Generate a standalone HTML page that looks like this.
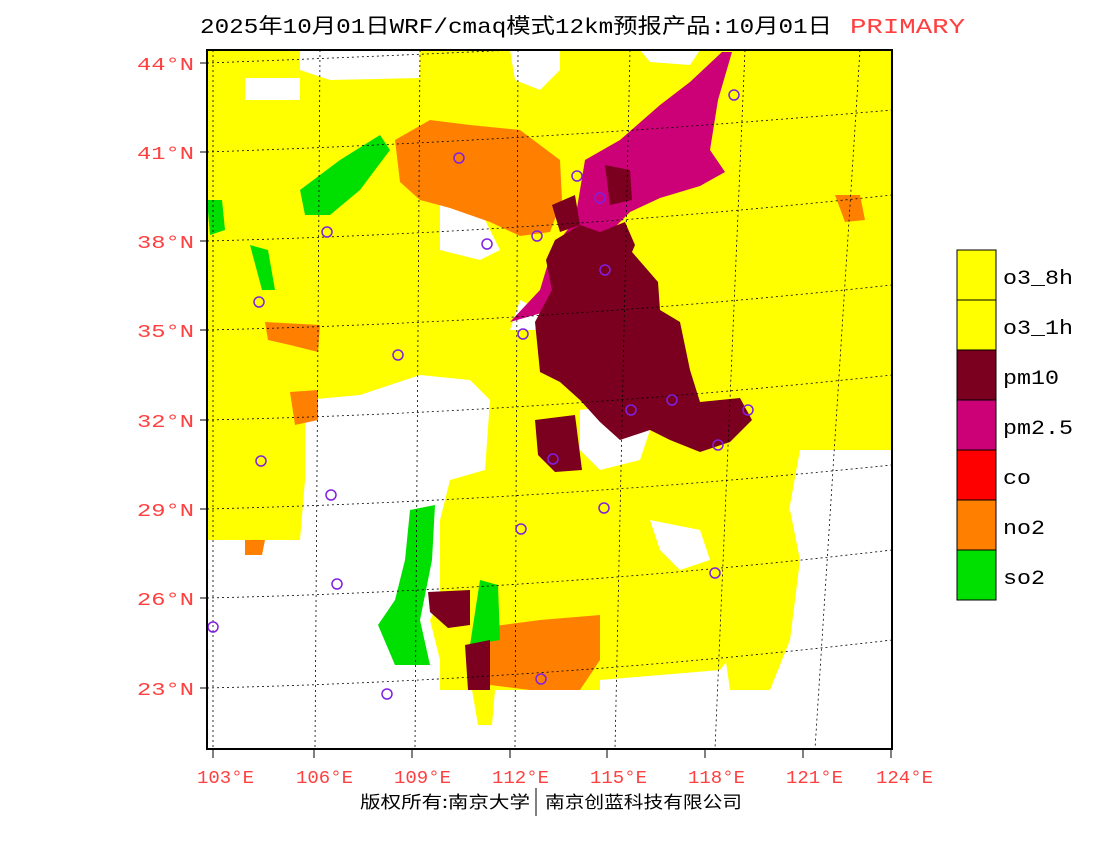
<!DOCTYPE html>
<html><head><meta charset="utf-8"><style>
body{margin:0;background:#fff;width:1100px;height:850px;overflow:hidden;font-family:"Liberation Mono","Noto Sans CJK SC",monospace}
</style></head><body>
<svg width="1100" height="850" xmlns="http://www.w3.org/2000/svg" style="position:absolute;left:0;top:0">
<defs><clipPath id="c"><rect x="207" y="50" width="685" height="699"/></clipPath></defs>
<g clip-path="url(#c)">
<rect x="207" y="50" width="685" height="699" fill="#ffff00"/>
<g fill="#fff">
<polygon points="300,50 420,50 420,78 330,80 300,70"/>
<polygon points="245,78 300,78 300,100 245,100"/>
<polygon points="510,50 560,50 560,70 540,90 515,80"/>
<polygon points="640,50 700,50 690,65 650,62"/>
<polygon points="305,400 360,395 420,375 470,380 490,400 485,470 450,480 440,520 440,600 430,620 440,660 440,690 600,690 600,749 207,749 207,540 300,540 305,480"/>
<polygon points="440,200 480,210 500,250 480,260 440,250"/>
<polygon points="520,300 540,310 535,330 510,330"/>
<polygon points="580,410 620,405 650,430 640,460 600,470 580,450"/>
<polygon points="590,350 620,350 615,380 595,385"/>
<polygon points="600,680 720,670 760,620 780,560 800,450 892,450 892,749 600,749"/>
<polygon points="650,520 700,530 710,560 680,570 660,550"/>
</g>
<polygon points="472,690 495,690 492,725 478,725" fill="#ffff00"/>
<polygon points="720,620 760,560 790,510 800,560 790,640 770,690 730,690" fill="#ffff00"/>
<g fill="#ff8000">
<polygon points="395,140 430,120 470,125 520,130 560,160 562,200 550,232 520,236 490,222 450,208 420,200 400,182"/>
<polygon points="265,322 320,325 318,352 290,345 268,340"/>
<polygon points="290,392 318,390 318,420 295,425"/>
<polygon points="480,628 540,620 600,615 600,660 580,690 530,690 490,685"/>
<polygon points="835,195 860,195 865,220 845,222"/>
<polygon points="245,540 265,540 262,555 245,555"/>
</g>
<g fill="#00e000">
<polygon points="300,190 340,160 380,135 390,150 360,190 330,215 305,215"/>
<polygon points="207,200 222,200 225,230 210,235"/>
<polygon points="250,245 268,250 275,290 262,290"/>
<polygon points="410,510 435,505 432,560 420,620 430,665 395,665 378,625 395,600 405,560"/>
<polygon points="480,580 498,585 500,640 470,645"/>
</g>
<polygon points="510,322 540,290 552,250 575,220 585,160 620,140 660,105 690,82 722,52 732,52 718,100 710,150 725,172 700,186 660,198 630,212 600,242 572,282 545,312" fill="#cc0077"/>
<g fill="#7b0020">
<polygon points="555,240 580,225 600,232 625,222 635,245 632,252 658,282 660,310 680,322 690,370 700,402 740,398 752,420 730,442 700,452 670,440 650,430 620,440 600,422 580,400 560,382 540,372 535,322 552,290 546,260"/>
<polygon points="552,205 575,195 580,225 560,232"/>
<polygon points="605,165 630,170 632,200 610,205"/>
<polygon points="535,420 575,415 582,470 555,472 538,455"/>
<polygon points="428,592 470,590 470,625 448,628 430,612"/>
<polygon points="465,645 490,640 490,690 468,690"/>
</g>
<g stroke="#000" stroke-width="0.8" stroke-dasharray="2,3" fill="none">
<path d="M207,63 Q550,50 892,30"/><path d="M207,152 Q550,140 892,110"/><path d="M207,241 Q550,232 892,195"/>
<path d="M207,330 Q550,322 892,285"/><path d="M207,420 Q550,412 892,375"/><path d="M207,509 Q550,500 892,465"/>
<path d="M207,598 Q550,590 892,550"/><path d="M207,688 Q550,680 892,640"/>
<path d="M213,50 L213,749"/><path d="M320,50 L315,749"/><path d="M420,50 L415,749"/><path d="M518,50 L515,749"/>
<path d="M630,50 L615,749"/><path d="M745,50 L715,749"/><path d="M860,50 L815,749"/>
</g>
<g fill="none" stroke="#8020e0" stroke-width="1.5">
<circle cx="734" cy="95" r="5"/><circle cx="459" cy="158" r="5"/><circle cx="577" cy="176" r="5"/><circle cx="600" cy="198" r="5"/>
<circle cx="327" cy="232" r="5"/><circle cx="487" cy="244" r="5"/><circle cx="537" cy="236" r="5"/><circle cx="605" cy="270" r="5"/>
<circle cx="259" cy="302" r="5"/><circle cx="523" cy="334" r="5"/><circle cx="398" cy="355" r="5"/><circle cx="631" cy="410" r="5"/>
<circle cx="672" cy="400" r="5"/><circle cx="748" cy="410" r="5"/><circle cx="718" cy="445" r="5"/><circle cx="553" cy="459" r="5"/>
<circle cx="261" cy="461" r="5"/><circle cx="331" cy="495" r="5"/><circle cx="604" cy="508" r="5"/><circle cx="521" cy="529" r="5"/>
<circle cx="715" cy="573" r="5"/><circle cx="337" cy="584" r="5"/><circle cx="213" cy="627" r="5"/><circle cx="541" cy="679" r="5"/><circle cx="387" cy="694" r="5"/>
</g>
</g>
<rect x="207" y="50" width="685" height="699" fill="none" stroke="#000" stroke-width="2"/>
<g stroke="#000" stroke-width="1">
<path d="M200,63H207M200,152H207M200,241H207M200,330H207M200,420H207M200,509H207M200,598H207M200,688H207"/>
<path d="M213,749V758M314,749V758M412,749V758M510,749V758M607,749V758M705,749V758M803,749V758M891,749V758"/>
</g>
<g fill="#ff4040" font-family="Liberation Mono,monospace" font-size="18">
<text x="137" y="70" textLength="57" lengthAdjust="spacingAndGlyphs">44°N</text><text x="137" y="159" textLength="57" lengthAdjust="spacingAndGlyphs">41°N</text><text x="137" y="248" textLength="57" lengthAdjust="spacingAndGlyphs">38°N</text><text x="137" y="337" textLength="57" lengthAdjust="spacingAndGlyphs">35°N</text>
<text x="137" y="427" textLength="57" lengthAdjust="spacingAndGlyphs">32°N</text><text x="137" y="516" textLength="57" lengthAdjust="spacingAndGlyphs">29°N</text><text x="137" y="605" textLength="57" lengthAdjust="spacingAndGlyphs">26°N</text><text x="137" y="695" textLength="57" lengthAdjust="spacingAndGlyphs">23°N</text>
</g>
<g fill="#ff4040" font-family="Liberation Mono,monospace" font-size="18">
<text x="197" y="783" textLength="57" lengthAdjust="spacingAndGlyphs">103°E</text><text x="296" y="783" textLength="57" lengthAdjust="spacingAndGlyphs">106°E</text><text x="394" y="783" textLength="57" lengthAdjust="spacingAndGlyphs">109°E</text><text x="492" y="783" textLength="57" lengthAdjust="spacingAndGlyphs">112°E</text>
<text x="590" y="783" textLength="57" lengthAdjust="spacingAndGlyphs">115°E</text><text x="688" y="783" textLength="57" lengthAdjust="spacingAndGlyphs">118°E</text><text x="786" y="783" textLength="57" lengthAdjust="spacingAndGlyphs">121°E</text><text x="876" y="783" textLength="57" lengthAdjust="spacingAndGlyphs">124°E</text>
</g>
<text x="200" y="33" font-size="21" textLength="632" lengthAdjust="spacingAndGlyphs" font-family="Liberation Mono,'Noto Sans CJK SC',monospace" fill="#000">2025年10月01日WRF/cmaq模式12km预报产品:10月01日</text>
<text x="850" y="33" font-size="21" textLength="115" lengthAdjust="spacingAndGlyphs" font-family="Liberation Mono,monospace" fill="#ff4040">PRIMARY</text>
<text x="360" y="808" font-size="17" textLength="170" lengthAdjust="spacingAndGlyphs" font-family="'Noto Sans CJK SC',sans-serif" fill="#000">版权所有:南京大学</text>
<line x1="536" y1="788" x2="536" y2="816" stroke="#000"/>
<text x="545" y="808" font-size="17" textLength="197" lengthAdjust="spacingAndGlyphs" font-family="'Noto Sans CJK SC',sans-serif" fill="#000">南京创蓝科技有限公司</text>
<g stroke="#000" stroke-width="1">
<rect x="957" y="250" width="39" height="50" fill="#ffff00"/><rect x="957" y="300" width="39" height="50" fill="#ffff00"/>
<rect x="957" y="350" width="39" height="50" fill="#7b0020"/><rect x="957" y="400" width="39" height="50" fill="#cc0077"/>
<rect x="957" y="450" width="39" height="50" fill="#ff0000"/><rect x="957" y="500" width="39" height="50" fill="#ff8000"/>
<rect x="957" y="550" width="39" height="50" fill="#00e000"/>
</g>
<g font-family="Liberation Mono,monospace" font-size="20" fill="#000">
<text x="1003" y="284" textLength="70" lengthAdjust="spacingAndGlyphs">o3_8h</text><text x="1003" y="334" textLength="70" lengthAdjust="spacingAndGlyphs">o3_1h</text><text x="1003" y="384" textLength="56" lengthAdjust="spacingAndGlyphs">pm10</text><text x="1003" y="434" textLength="70" lengthAdjust="spacingAndGlyphs">pm2.5</text>
<text x="1003" y="484" textLength="28" lengthAdjust="spacingAndGlyphs">co</text><text x="1003" y="534" textLength="42" lengthAdjust="spacingAndGlyphs">no2</text><text x="1003" y="584" textLength="42" lengthAdjust="spacingAndGlyphs">so2</text>
</g>
</svg>
</body></html>
